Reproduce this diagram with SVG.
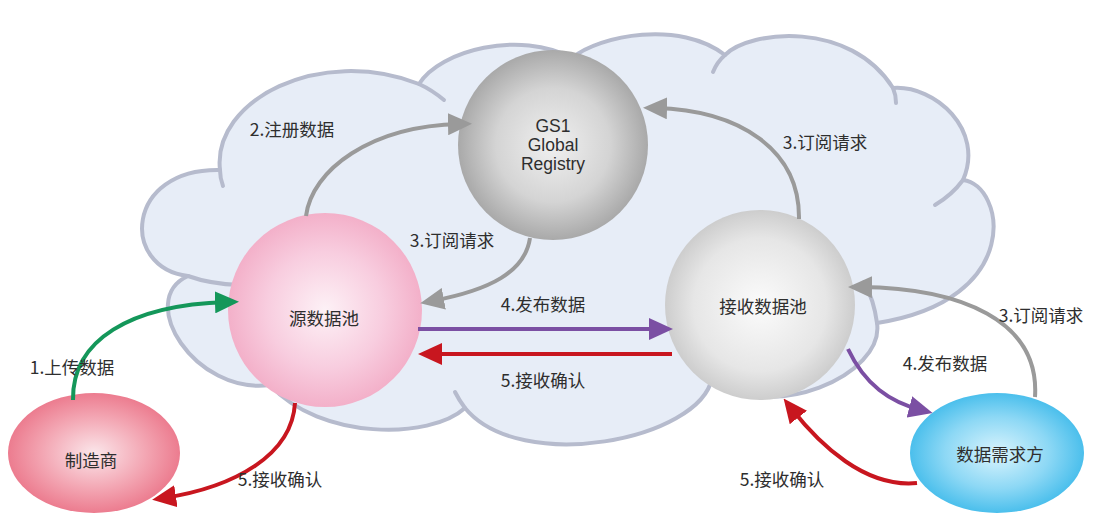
<svg xmlns="http://www.w3.org/2000/svg" width="1103" height="525" viewBox="0 0 1103 525">
  <style>
    .cloud { fill: #e7edf7; stroke: #b6bbcd; stroke-width: 4; stroke-linejoin: round; }
    .stub { fill: none; stroke: #b6bbcd; stroke-width: 4; stroke-linecap: round; }
    .conn { fill: none; stroke-width: 4; stroke-linecap: butt; }
    .gray { stroke: #9a9a9a; }
    .green { stroke: #14975a; }
    .red { stroke: #c8161f; }
    .purple { stroke: #7b4fa3; }
    .lbl { font-family: "Noto Sans CJK SC", "Noto Sans", sans-serif; font-size: 17.5px; fill: #2e2e2e; text-anchor: middle; }
    .en { font-family: "Liberation Sans", Arial, sans-serif; font-size: 17.5px; fill: #2e2e2e; text-anchor: middle; }
  </style>
  <defs>
    <radialGradient id="gGray" cx="50%" cy="50%" r="50%">
      <stop offset="0" stop-color="#f0f0f0"/>
      <stop offset="0.6" stop-color="#d4d4d4"/>
      <stop offset="1" stop-color="#a9a9a9"/>
    </radialGradient>
    <radialGradient id="gLight" cx="50%" cy="50%" r="50%">
      <stop offset="0" stop-color="#fbfbfb"/>
      <stop offset="0.7" stop-color="#e6e6e6"/>
      <stop offset="1" stop-color="#cdcdcd"/>
    </radialGradient>
    <radialGradient id="gPink" cx="50%" cy="50%" r="50%">
      <stop offset="0" stop-color="#fdf1f6"/>
      <stop offset="0.6" stop-color="#f8cddf"/>
      <stop offset="1" stop-color="#f3b0c9"/>
    </radialGradient>
    <radialGradient id="gRose" cx="50%" cy="50%" r="50%">
      <stop offset="0" stop-color="#fbe6ea"/>
      <stop offset="0.6" stop-color="#f3a6b3"/>
      <stop offset="1" stop-color="#ec7c8f"/>
    </radialGradient>
    <radialGradient id="gBlue" cx="50%" cy="50%" r="50%">
      <stop offset="0" stop-color="#daf4fd"/>
      <stop offset="0.6" stop-color="#8dd8f5"/>
      <stop offset="1" stop-color="#4bbfec"/>
    </radialGradient>
    <marker id="mGray" markerUnits="userSpaceOnUse" viewBox="0 0 24 22" markerWidth="24" markerHeight="22" refX="12" refY="11" orient="auto">
      <path d="M0,0 L24,11 L0,22 z" fill="#9a9a9a"/>
    </marker>
    <marker id="mGreen" markerUnits="userSpaceOnUse" viewBox="0 0 24 22" markerWidth="24" markerHeight="22" refX="12" refY="11" orient="auto">
      <path d="M0,0 L24,11 L0,22 z" fill="#14975a"/>
    </marker>
    <marker id="mRed" markerUnits="userSpaceOnUse" viewBox="0 0 24 22" markerWidth="24" markerHeight="22" refX="12" refY="11" orient="auto">
      <path d="M0,0 L24,11 L0,22 z" fill="#c8161f"/>
    </marker>
    <marker id="mPurple" markerUnits="userSpaceOnUse" viewBox="0 0 24 22" markerWidth="24" markerHeight="22" refX="12" refY="11" orient="auto">
      <path d="M0,0 L24,11 L0,22 z" fill="#7b4fa3"/>
    </marker>
  </defs>

  <rect x="0" y="0" width="1103" height="525" fill="#ffffff"/>

  <g id="cloud">
    <path class="cloud" d="M 188 276
      C 120 268, 125 168, 220 170
      C 212 100, 320 45, 419 84
      C 440 50, 520 30, 572 58
      C 600 35, 680 20, 725 55
      C 750 30, 850 20, 893 88
      C 935 85, 985 130, 963 180
      C 1005 185, 1025 300, 877 323
      C 885 375, 770 425, 712 378
      C 700 440, 520 475, 465 408
      C 430 440, 320 440, 270 385
      C 195 395, 135 300, 188 276 Z"/>
    <path class="stub" d="M 223 186 Q 220 178 220 170"/>
    <path class="stub" d="M 419 84 Q 432 90 444 100"/>
    <path class="stub" d="M 713 72 Q 717 62 725 55"/>
    <path class="stub" d="M 893 88 Q 896 95 896 103"/>
    <path class="stub" d="M 963 180 Q 952 195 935 205"/>
    <path class="stub" d="M 877 323 Q 874 300 864 282"/>
    <path class="stub" d="M 465 408 Q 459 400 455 392"/>
    <path class="stub" d="M 188 276 Q 210 284 240 285"/>
  </g>

  <g id="node-gs1">
    <circle cx="553" cy="145" r="95" fill="url(#gGray)"/>
    <text class="en" x="553" y="132">GS1</text>
    <text class="en" x="553" y="151">Global</text>
    <text class="en" x="553" y="170">Registry</text>
  </g>
  <g id="node-source-pool">
    <circle cx="325" cy="310" r="97" fill="url(#gPink)"/>
    <text class="lbl" x="324" y="325">源数据池</text>
  </g>
  <g id="node-recipient-pool">
    <circle cx="760" cy="305" r="95" fill="url(#gLight)"/>
    <text class="lbl" x="763" y="313">接收数据池</text>
  </g>
  <g id="node-manufacturer">
    <ellipse cx="94" cy="453" rx="86" ry="60" fill="url(#gRose)"/>
    <text class="lbl" x="91" y="467">制造商</text>
  </g>
  <g id="node-data-recipient">
    <ellipse cx="997" cy="453" rx="87" ry="60" fill="url(#gBlue)"/>
    <text class="lbl" x="1000" y="461">数据需求方</text>
  </g>

  <g id="connectors">
    <path class="conn green" d="M 73 400 C 72 340, 130 305, 227 302" marker-end="url(#mGreen)"/>
    <path class="conn red" d="M 295 403 C 292 455, 235 487, 164 498" marker-end="url(#mRed)"/>
    <path class="conn purple" d="M 418 329 L 661 329" marker-end="url(#mPurple)"/>
    <path class="conn red" d="M 672 354 L 430 354" marker-end="url(#mRed)"/>
    <path class="conn gray" d="M 306 216 C 312 170, 370 126, 460 124" marker-end="url(#mGray)"/>
    <path class="conn gray" d="M 799 219 C 800 150, 740 110, 655 108" marker-end="url(#mGray)"/>
    <path class="conn gray" d="M 530 238 C 525 272, 490 290, 432 301" marker-end="url(#mGray)"/>
    <path class="conn gray" d="M 1035 397 C 1040 320, 960 288, 860 287" marker-end="url(#mGray)"/>
    <path class="conn purple" d="M 848 349 C 865 385, 890 402, 921 410" marker-end="url(#mPurple)"/>
    <path class="conn red" d="M 917 483 C 865 488, 820 445, 791 408" marker-end="url(#mRed)"/>
  </g>

  <g id="connector-labels">
    <text class="lbl" x="292" y="136">2.注册数据</text>
    <text class="lbl" x="452" y="247">3.订阅请求</text>
    <text class="lbl" x="825" y="149">3.订阅请求</text>
    <text class="lbl" x="543" y="311">4.发布数据</text>
    <text class="lbl" x="543" y="387">5.接收确认</text>
    <text class="lbl" x="72" y="374">1.上传数据</text>
    <text class="lbl" x="280" y="486">5.接收确认</text>
    <text class="lbl" x="1041" y="322">3.订阅请求</text>
    <text class="lbl" x="945" y="370">4.发布数据</text>
    <text class="lbl" x="782" y="486">5.接收确认</text>
  </g>
</svg>
